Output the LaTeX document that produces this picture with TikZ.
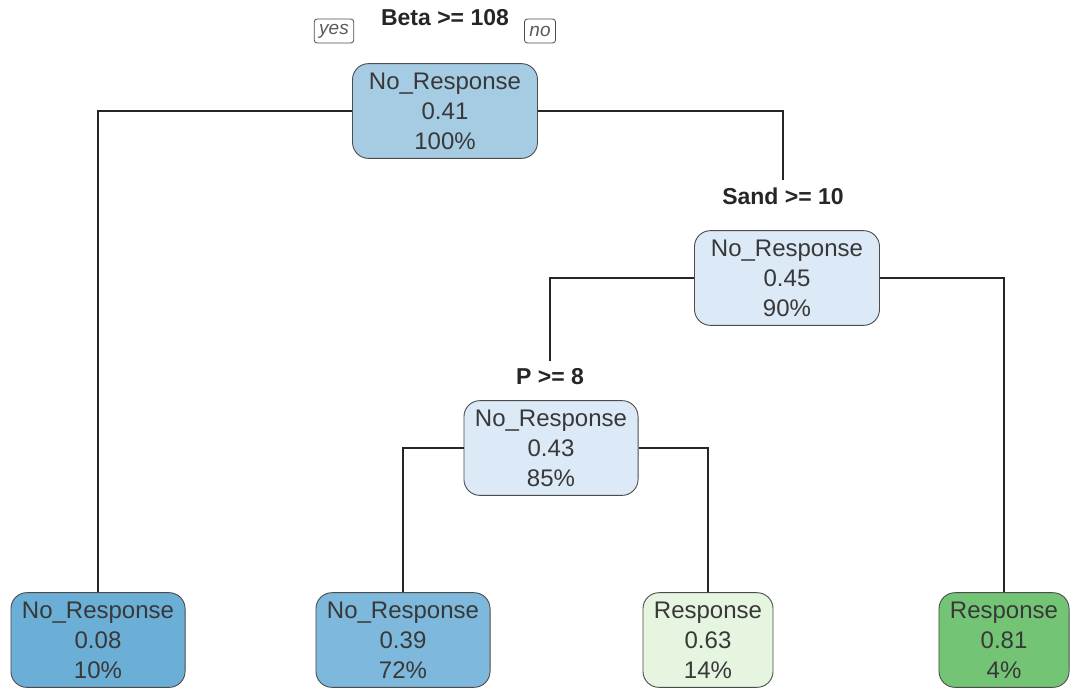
\documentclass[tikz,border=0pt]{standalone}
\usepackage{fontspec}
\setmainfont{Liberation Sans}
\usepackage{tikz}

\definecolor{rootblue}{RGB}{166,204,228}
\definecolor{paleblue}{RGB}{220,233,246}
\definecolor{deepblue}{RGB}{107,174,214}
\definecolor{midblue}{RGB}{126,184,220}
\definecolor{palegreen}{RGB}{229,245,224}
\definecolor{deepgreen}{RGB}{116,196,118}

\begin{document}
\begin{tikzpicture}[x=1pt,y=-1pt,
  box/.style={draw=black!70,line width=0.9pt,rounded corners=16pt,align=center,inner xsep=11pt,inner ysep=9pt,font=\fontsize{24}{30}\selectfont,text=black!78},
  split/.style={font=\bfseries\fontsize{23}{28}\selectfont,text=black!85,inner sep=2pt,outer sep=6pt},
  tag/.style={draw=black!70,line width=0.8pt,rounded corners=3pt,font=\itshape\fontsize{19}{21}\selectfont,text=black!65,inner xsep=5pt,minimum height=24pt},
  edge/.style={draw=black!85,line width=1.1pt}]
\useasboundingbox (0,0) rectangle (1075,694);

\node[box,fill=rootblue,minimum width=185pt] (root) at (445,111) {No\_Response\\0.41\\100\%};
\node[split] (betasplit) at (445,18) {Beta >= 108};
\node[tag] (yes) at (334,31) {yes};
\node[tag] (no) at (540,31) {no};

\node[box,fill=paleblue,minimum width=185pt] (sand) at (787,278) {No\_Response\\0.45\\90\%};
\node[split] (sandsplit) at (783,196) {Sand >= 10};

\node[box,fill=paleblue] (pnode) at (551,448) {No\_Response\\0.43\\85\%};
\node[split] (psplit) at (550,377) {P >= 8};

\node[box,fill=deepblue] (leafa) at (98,640) {No\_Response\\0.08\\10\%};
\node[box,fill=midblue] (leafb) at (403,640) {No\_Response\\0.39\\72\%};
\node[box,fill=palegreen] (leafc) at (708,640) {Response\\0.63\\14\%};
\node[box,fill=deepgreen] (leafd) at (1004,640) {Response\\0.81\\4\%};

\draw[edge] (root.west) -| (leafa.north);
\draw[edge] (root.east) -| (sandsplit.north);
\draw[edge] (sand.west) -| (psplit.north);
\draw[edge] (sand.east) -| (leafd.north);
\draw[edge] (pnode.west) -| (leafb.north);
\draw[edge] (pnode.east) -| (leafc.north);
\end{tikzpicture}
\end{document}
